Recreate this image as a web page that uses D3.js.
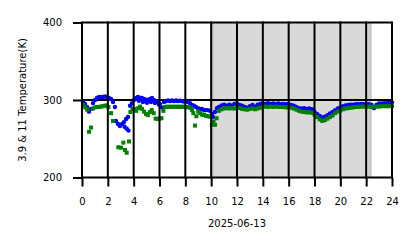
<!DOCTYPE html>
<html>
<head>
<meta charset="utf-8">
<script src="https://cdn.jsdelivr.net/npm/d3@7"></script>
<style>
  body { margin: 0; background: #fff; }
  svg text { font-family: "DejaVu Sans", sans-serif; font-size: 10px; fill: #000; }
</style>
</head>
<body>
<div id="chart"></div>
<script>
/* globals d3 */

// axis ticks and labels
var hourTicks = [0, 2, 4, 6, 8, 10, 12, 14, 16, 18, 20, 22, 24];
var tempTicks = [200, 300, 400];
var dateLabel = "2025-06-13";
var tempLabel = "3.9 & 11 Temperature(K)";

// shaded period (hours)
var nightSpan = [10.0, 22.42];

// 3.9 um brightness temperature [hour, K]
var temp39 = [
  [0.08, 297.5], [0.23, 295], [0.39, 291], [0.54, 285], [0.70, 288.5], [0.85, 296],
  [1.01, 300], [1.16, 302.5], [1.32, 304], [1.47, 304], [1.63, 304], [1.78, 304.5],
  [1.93, 304], [2.09, 302.5], [2.24, 301.5], [2.40, 297.5], [2.55, 291],
  [2.63, 273], [2.79, 269], [2.94, 266.5], [3.10, 269], [3.25, 271.5], [3.30, 265.5],
  [3.41, 275.5], [3.46, 263], [3.56, 278], [3.60, 260.5],
  [3.72, 292.5], [3.87, 296], [4.02, 300], [4.18, 302.5], [4.33, 304], [4.41, 299],
  [4.49, 303], [4.64, 302.5], [4.72, 297.5], [4.80, 301.5], [4.95, 300.5], [5.03, 296.5],
  [5.11, 300], [5.26, 301.5], [5.34, 297.5], [5.42, 302.5], [5.57, 300], [5.65, 296],
  [5.73, 298.5], [5.88, 297.5], [5.96, 294], [6.04, 295], [6.19, 290.5],
  [6.35, 297.5], [6.50, 298.5], [6.66, 299.5], [6.81, 298.5], [6.97, 299.5], [7.12, 298.5],
  [7.28, 299.5], [7.43, 298.5], [7.59, 299], [7.74, 298.5], [7.89, 298], [8.05, 298.5],
  [8.20, 297.5], [8.36, 296], [8.51, 293.5], [8.67, 292.5], [8.82, 291], [8.98, 289.5],
  [9.13, 288.5], [9.29, 288.5], [9.44, 287], [9.60, 287], [9.75, 287], [9.91, 286],
  [10.06, 282], [10.14, 278], [10.29, 284.5], [10.45, 289.5],
  [10.6, 291], [10.8, 293], [11.0, 294], [11.2, 292.5], [11.4, 294], [11.6, 293],
  [11.8, 295], [12.0, 295.5], [12.2, 293.5], [12.4, 292.5], [12.6, 291], [12.8, 290],
  [13.0, 292], [13.2, 293.5], [13.4, 291.5], [13.6, 294], [13.8, 295], [14.0, 296],
  [14.2, 295], [14.4, 296], [14.6, 295], [14.8, 295.5], [15.0, 295], [15.2, 295.5],
  [15.4, 294.5], [15.6, 295], [15.8, 294.5], [16.0, 294.5], [16.2, 293.5], [16.4, 292.5],
  [16.6, 291], [16.8, 289.5], [17.0, 289], [17.2, 289.5], [17.4, 288.5], [17.6, 289],
  [17.8, 288], [18.0, 285], [18.2, 282], [18.4, 279.5], [18.6, 277.5], [18.8, 278.5],
  [19.0, 280.5], [19.2, 282.5], [19.4, 284.5], [19.6, 287], [19.8, 289], [20.0, 290.5],
  [20.2, 292], [20.4, 293], [20.6, 293.5], [20.8, 294], [21.0, 294], [21.2, 294.5],
  [21.4, 294.5], [21.6, 295], [21.8, 294.5], [22.0, 295], [22.2, 294.5], [22.4, 294],
  [22.6, 289.5], [22.8, 294], [23.0, 295.5], [23.2, 295.5], [23.4, 296], [23.6, 296],
  [23.8, 296.5], [24.0, 297]
];

// 11 um brightness temperature [hour, K]
var temp11 = [
  [0.10, 293.5], [0.25, 290.5], [0.40, 287.5], [0.55, 259], [0.70, 264.5], [0.85, 289],
  [1.00, 290.5], [1.15, 291], [1.30, 291], [1.45, 291.5], [1.60, 292], [1.75, 292.5],
  [1.90, 293], [2.05, 291], [2.25, 283], [2.40, 273],
  [2.81, 239], [3.02, 238.5], [3.20, 245], [3.33, 235.5], [3.46, 232], [3.64, 246.5],
  [3.75, 284.5], [3.90, 288.5], [4.05, 288.5], [4.20, 286], [4.35, 289.5], [4.50, 291.5],
  [4.65, 288.5], [4.80, 285], [4.95, 282], [5.10, 280.5], [5.25, 284.5], [5.40, 287],
  [5.55, 283], [5.70, 276], [5.85, 275.5], [6.00, 276], [6.15, 276.5], [6.30, 286],
  [6.45, 291], [6.60, 291.5], [6.75, 291], [6.90, 291.5], [7.05, 291], [7.20, 291.5],
  [7.35, 291], [7.50, 291.5], [7.65, 291], [7.80, 291.5], [7.95, 291], [8.10, 291],
  [8.25, 290.5], [8.40, 290], [8.52, 287], [8.62, 283], [8.75, 267], [8.85, 279],
  [9.00, 285], [9.15, 283], [9.30, 281], [9.45, 281], [9.60, 279.5], [9.75, 279],
  [9.90, 278.5], [10.05, 268], [10.18, 272], [10.30, 268], [10.42, 276.5],
  [10.6, 286], [10.8, 288], [11.0, 289], [11.2, 289.5], [11.4, 289], [11.6, 289.5],
  [11.8, 289], [12.0, 290], [12.2, 289.5], [12.4, 288.5], [12.6, 288], [12.8, 287.5],
  [13.0, 288.5], [13.2, 289], [13.4, 288], [13.6, 289], [13.8, 290], [14.0, 291],
  [14.2, 291.5], [14.4, 291], [14.6, 291.5], [14.8, 291], [15.0, 291.5], [15.2, 291],
  [15.4, 291], [15.6, 291], [15.8, 290.5], [16.0, 290.5], [16.2, 290], [16.4, 289],
  [16.6, 287.5], [16.8, 286], [17.0, 285], [17.2, 284.5], [17.4, 284], [17.6, 284],
  [17.8, 283.5], [18.0, 281], [18.2, 278], [18.4, 275], [18.6, 273], [18.8, 274],
  [19.0, 276], [19.2, 278], [19.4, 280], [19.6, 283], [19.8, 285], [20.0, 286.5],
  [20.2, 288], [20.4, 289], [20.6, 289.5], [20.8, 290], [21.0, 290.5], [21.2, 291],
  [21.4, 291], [21.6, 291.5], [21.8, 291.5], [22.0, 291.5], [22.2, 291.5], [22.4, 291],
  [22.6, 291.5], [22.8, 291.5], [23.0, 291.5], [23.2, 292], [23.4, 292], [23.6, 292],
  [23.8, 292], [24.0, 292]
];

var Chart = {
  settings: {
    width: 418,
    height: 248,
    left: 82,
    right: 392,
    top: 22.5,
    bottom: 177.5,
    tickSize: 9,
    gridWidth: 2,
    shade: "#d9d9d9",
    shadeEdge: "#c9c9c9",
    shadeEdgeWidth: 3,
    blue: "#0000ff",
    green: "#008000",
    dotRadius: 2.2,
    squareSize: 4
  },

  draw: function(container) {
    var s = Chart.settings;

    var svg = d3.select(container).append("svg")
      .attr("width", s.width)
      .attr("height", s.height);

    var x = d3.scaleLinear().domain([0, 24]).range([s.left, s.right]);
    var y = d3.scaleLinear().domain([200, 400]).range([s.bottom, s.top]);

    // shaded span
    var shade = svg.append("g");
    shade.append("rect")
      .attr("x", x(nightSpan[0]))
      .attr("y", s.top)
      .attr("width", x(nightSpan[1]) - x(nightSpan[0]))
      .attr("height", s.bottom - s.top)
      .attr("fill", s.shade);
    shade.selectAll(".edge")
      .data(nightSpan)
      .enter().append("rect")
      .attr("class", "edge")
      .attr("x", function(d, i) { return i === 0 ? x(d) : x(d) - s.shadeEdgeWidth; })
      .attr("y", s.top)
      .attr("width", s.shadeEdgeWidth)
      .attr("height", s.bottom - s.top)
      .attr("fill", s.shadeEdge);

    // horizontal grid (under the data)
    svg.append("g").selectAll("line")
      .data(tempTicks)
      .enter().append("line")
      .attr("x1", s.left).attr("x2", s.right)
      .attr("y1", function(d) { return y(d); })
      .attr("y2", function(d) { return y(d); })
      .attr("stroke", "#000")
      .attr("stroke-width", s.gridWidth);

    // 3.9um first, 11um on top
    svg.append("g").selectAll("circle")
      .data(temp39)
      .enter().append("circle")
      .attr("cx", function(d) { return x(d[0]); })
      .attr("cy", function(d) { return y(d[1]); })
      .attr("r", s.dotRadius)
      .attr("fill", s.blue);

    svg.append("g").selectAll("rect")
      .data(temp11)
      .enter().append("rect")
      .attr("x", function(d) { return x(d[0]) - s.squareSize / 2; })
      .attr("y", function(d) { return y(d[1]) - s.squareSize / 2; })
      .attr("width", s.squareSize)
      .attr("height", s.squareSize)
      .attr("fill", s.green);

    // vertical grid (drawn over the data)
    svg.append("g").selectAll("line")
      .data(hourTicks)
      .enter().append("line")
      .attr("x1", function(d) { return x(d); })
      .attr("x2", function(d) { return x(d); })
      .attr("y1", s.top - 1).attr("y2", s.bottom + 1)
      .attr("stroke", "#000")
      .attr("stroke-width", s.gridWidth);

    // axes
    var xAxis = svg.append("g")
      .attr("transform", "translate(0," + s.bottom + ")")
      .call(d3.axisBottom(x).tickValues(hourTicks).tickSize(s.tickSize).tickPadding(11.5));
    var yAxis = svg.append("g")
      .attr("transform", "translate(" + s.left + ",0)")
      .call(d3.axisLeft(y).tickValues(tempTicks).tickSize(s.tickSize).tickPadding(11));

    [xAxis, yAxis].forEach(function(a) {
      a.select(".domain").remove();
      a.selectAll(".tick line").attr("stroke", "#000").attr("stroke-width", s.gridWidth);
      a.selectAll(".tick text")
        .attr("fill", "#000")
        .style("font-family", "'DejaVu Sans', sans-serif")
        .style("font-size", "10px");
    });

    svg.append("text")
      .attr("x", (s.left + s.right) / 2)
      .attr("y", 226.5)
      .attr("text-anchor", "middle")
      .text(dateLabel);

    svg.append("text")
      .attr("transform", "translate(26," + ((s.top + s.bottom) / 2) + ") rotate(-90)")
      .attr("text-anchor", "middle")
      .text(tempLabel);
  }
};

Chart.draw("#chart");
</script>
</body>
</html>
